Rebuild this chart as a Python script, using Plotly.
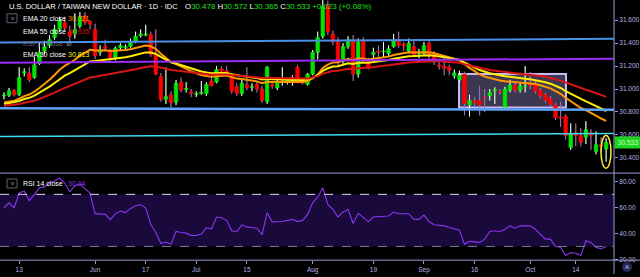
import pandas as pd
import plotly.graph_objects as go

# ---------------- data ----------------
dates = [d.strftime("%Y-%m-%d") for d in pd.bdate_range("2019-05-08", "2019-10-22")]

opens = [30.940, 30.945, 30.990, 30.950, 31.140, 31.140, 31.100, 31.220, 31.330, 31.380,
         31.450, 31.520, 31.580, 31.500, 31.480, 31.550, 31.640, 31.590, 31.520, 31.320,
         31.370, 31.330, 31.270, 31.360, 31.360, 31.370, 31.410, 31.465, 31.470, 31.475,
         31.300, 31.110, 30.910, 30.950, 30.885, 31.060, 30.995, 30.975, 30.955, 30.960,
         30.960, 31.070, 31.060, 31.175, 31.160, 31.120, 31.020, 30.960, 31.040, 31.015,
         31.040, 31.000, 30.890, 31.040, 31.010, 31.060, 31.060, 31.070, 31.190, 31.065,
         31.040, 31.130, 31.320, 31.460, 31.730, 31.480, 31.410, 31.240, 31.370, 31.430,
         31.130, 31.420, 31.240, 31.300, 31.330, 31.325, 31.310, 31.370, 31.430, 31.390,
         31.330, 31.370, 31.310, 31.310, 31.400, 31.300, 31.210, 31.200, 31.190, 31.115,
         31.080, 31.130, 30.860, 30.900, 30.900, 30.930, 30.940, 30.985, 30.980, 30.840,
         30.990, 31.035, 30.990, 31.020, 31.045, 31.050, 30.990, 30.950, 30.920, 30.860,
         30.755, 30.760, 30.490, 30.620, 30.595, 30.580, 30.620, 30.455, 30.515, 30.478]
highs = [30.970, 31.010, 31.000, 31.190, 31.180, 31.190, 31.280, 31.410, 31.420, 31.470,
         31.560, 31.630, 31.630, 31.550, 31.660, 31.670, 31.670, 31.600, 31.570, 31.380,
         31.430, 31.350, 31.370, 31.400, 31.390, 31.440, 31.500, 31.520, 31.560, 31.500,
         31.520, 31.140, 31.190, 30.980, 31.080, 31.100, 31.060, 31.000, 30.980, 31.070,
         31.060, 31.120, 31.200, 31.200, 31.200, 31.140, 31.050, 31.080, 31.190, 31.050,
         31.070, 31.030, 31.200, 31.060, 31.080, 31.190, 31.100, 31.120, 31.210, 31.090,
         31.140, 31.340, 31.500, 31.780, 31.770, 31.510, 31.450, 31.400, 31.460, 31.470,
         31.440, 31.450, 31.270, 31.360, 31.380, 31.410, 31.380, 31.480, 31.500, 31.410,
         31.440, 31.430, 31.350, 31.410, 31.430, 31.330, 31.260, 31.270, 31.210, 31.170,
         31.160, 31.150, 30.950, 30.930, 31.030, 31.000, 31.000, 31.015, 31.000, 31.020,
         31.080, 31.070, 31.060, 31.200, 31.150, 31.070, 31.010, 30.970, 30.940, 30.880,
         30.890, 30.780, 30.700, 30.700, 30.660, 30.720, 30.650, 30.630, 30.580, 30.572]
lows = [30.910, 30.930, 30.935, 30.940, 31.110, 31.060, 31.090, 31.210, 31.300, 31.360,
        31.430, 31.500, 31.500, 31.420, 31.440, 31.530, 31.560, 31.520, 31.260, 31.290,
        31.340, 31.240, 31.250, 31.340, 31.340, 31.360, 31.400, 31.450, 31.460, 31.280,
        31.120, 30.890, 30.870, 30.840, 30.860, 30.970, 30.970, 30.930, 30.930, 30.950,
        30.940, 31.020, 31.050, 31.140, 31.110, 30.960, 30.940, 30.940, 30.990, 30.980,
        30.970, 30.880, 30.870, 31.000, 30.990, 31.030, 31.040, 31.030, 31.050, 31.040,
        31.030, 31.120, 31.260, 31.440, 31.470, 31.380, 31.200, 31.220, 31.350, 31.070,
        31.100, 31.240, 31.170, 31.270, 31.280, 31.280, 31.290, 31.360, 31.360, 31.330,
        31.310, 31.280, 31.270, 31.290, 31.250, 31.210, 31.170, 31.120, 31.120, 31.090,
        31.060, 30.770, 30.760, 30.850, 30.770, 30.800, 30.900, 30.870, 30.950, 30.820,
        30.970, 30.970, 30.970, 30.970, 31.000, 30.960, 30.920, 30.880, 30.850, 30.730,
        30.670, 30.560, 30.470, 30.500, 30.500, 30.520, 30.470, 30.430, 30.450, 30.365]
closes = [30.945, 30.985, 30.950, 31.100, 31.150, 31.080, 31.210, 31.320, 31.370, 31.430,
          31.520, 31.600, 31.530, 31.460, 31.520, 31.630, 31.580, 31.565, 31.290, 31.330,
          31.355, 31.260, 31.355, 31.380, 31.368, 31.410, 31.460, 31.480, 31.478, 31.300,
          31.130, 30.910, 30.935, 30.880, 31.050, 30.990, 31.005, 30.960, 30.960, 30.970,
          31.040, 31.030, 31.170, 31.155, 31.130, 30.980, 30.960, 31.050, 31.010, 31.020,
          31.000, 30.900, 31.190, 31.025, 31.060, 31.065, 31.080, 31.075, 31.060, 31.050,
          31.130, 31.320, 31.450, 31.720, 31.500, 31.410, 31.240, 31.370, 31.430, 31.130,
          31.410, 31.260, 31.190, 31.320, 31.320, 31.330, 31.350, 31.430, 31.380, 31.375,
          31.400, 31.300, 31.320, 31.380, 31.290, 31.235, 31.200, 31.180, 31.160, 31.140,
          31.120, 30.870, 30.900, 30.880, 30.860, 30.925, 30.970, 30.995, 30.975, 31.000,
          31.035, 30.990, 31.025, 31.025, 31.030, 30.980, 30.940, 30.900, 30.865, 30.750,
          30.745, 30.595, 30.610, 30.595, 30.535, 30.645, 30.595, 30.515, 30.500, 30.533]

rsi = [59.7, 63.5, 59.7, 71.0, 72.6, 65.0, 70.0, 75.0, 75.7, 78.7,
       80.2, 82.5, 78.7, 71.9, 76.4, 78.0, 74.4, 71.0, 55.2, 55.0,
       54.6, 50.6, 55.0, 57.2, 56.0, 59.2, 61.2, 62.0, 59.7, 47.0,
       40.7, 32.4, 33.2, 31.8, 41.5, 40.7, 40.2, 38.4, 38.4, 39.5,
       44.3, 43.5, 52.6, 52.0, 50.0, 42.0, 41.3, 46.6, 45.0, 44.5,
       44.0, 39.0, 55.9, 48.9, 49.0, 49.1, 50.0, 50.8, 49.1, 50.0,
       54.6, 63.5, 67.8, 74.9, 62.2, 58.4, 52.6, 56.4, 58.4, 47.6,
       55.4, 52.0, 49.1, 52.6, 52.9, 53.2, 53.4, 56.4, 55.1, 55.1,
       55.1, 50.8, 50.8, 54.1, 49.1, 46.6, 46.2, 45.8, 44.5, 43.2,
       42.5, 31.8, 33.9, 33.5, 33.1, 35.6, 41.5, 42.0, 41.3, 43.2,
       45.8, 44.0, 45.8, 45.8, 45.8, 43.2, 39.5, 35.6, 35.6, 29.9,
       29.4, 23.0, 25.3, 24.8, 23.0, 34.4, 33.1, 29.4, 28.1, 30.04]

tick_dates = ["2019-05-13", "2019-06-03", "2019-06-17", "2019-07-01", "2019-07-15", "2019-08-01",
              "2019-08-19", "2019-09-02", "2019-09-16", "2019-10-01", "2019-10-14"]
tick_labels = ["13", "Jun", "17", "Jul", "15", "Aug", "19", "Sep", "16", "Oct", "14"]

price_ticks = [31.6, 31.4, 31.2, 31.0, 30.8, 30.6, 30.4]
rsi_ticks = [80, 60, 40, 20]

# EMA seeds (value of each average just before the first visible bar)
ema_specs = [(20, 30.875, "#ff9800"), (30, 30.865, "#ffee00"), (55, 30.85, "#d81414")]


def ema(values, n, seed):
    a = 2.0 / (n + 1)
    out, e = [], seed
    for v in values:
        e = e + a * (v - e)
        out.append(e)
    return out


# ---------------- geometry helpers ----------------
W, H = 640, 277
AX_X = 614            # right price axis
SEP_Y = 175           # pane separator
RSI_TOP, RSI_BOT = 176, 263
P_REF, Y_REF, PPU = 31.0, 90.0, 116.0   # price 31.0 at y=90px, 116 px per unit
BAR0, DX = 4.0, 5.06


def px(x):
    return x / W


def py(y):
    return 1 - y / H


def y2p(y):
    return P_REF - (y - Y_REF) / PPU


def x2i(x):
    return (x - BAR0) / DX


price_range = [y2p(SEP_Y), y2p(0)]
rsi_ppu = (262.3 - 183.3) / 60.0
rsi_range = [20 - (RSI_BOT - 262.3) / rsi_ppu, 80 + (183.3 - RSI_TOP) / rsi_ppu]
x_range = [x2i(0), x2i(AX_X)]

fig = go.Figure()

# candle bodies
fig.add_trace(go.Candlestick(
    x=dates, open=opens, high=highs, low=lows, close=closes,
    increasing=dict(line=dict(color="#00e600", width=0.6), fillcolor="#00e600"),
    decreasing=dict(line=dict(color="#ff0000", width=0.6), fillcolor="#ff0000"),
    whiskerwidth=0, xaxis="x", yaxis="y", hoverinfo="skip", showlegend=False))

# wicks (outside of bodies), drawn over the candle's own wick
for up, col in [(True, "#ffffff"), (False, "#8585c8")]:
    xs, ys = [], []
    for i in range(len(dates)):
        if (closes[i] >= opens[i]) != up:
            continue
        top, bot = max(opens[i], closes[i]), min(opens[i], closes[i])
        xs += [dates[i], dates[i], None, dates[i], dates[i], None]
        ys += [highs[i], top, None, bot, lows[i], None]
    fig.add_trace(go.Scatter(x=xs, y=ys, mode="lines", line=dict(color=col, width=1),
                             xaxis="x", yaxis="y", hoverinfo="skip", showlegend=False))

# EMAs
for n, seed, col in ema_specs:
    fig.add_trace(go.Scatter(x=dates, y=ema(closes, n, seed), mode="lines",
                             line=dict(color=col, width=2), xaxis="x", yaxis="y",
                             hoverinfo="skip", showlegend=False))

# RSI
fig.add_trace(go.Scatter(x=dates, y=rsi, mode="lines", line=dict(color="#8a35f0", width=1.1),
                         xaxis="x2", yaxis="y2", hoverinfo="skip", showlegend=False))

shapes = []
# RSI band
shapes.append(dict(type="rect", xref="x2", yref="y2", x0=x_range[0], x1=x_range[1], y0=30, y1=70,
                   fillcolor="#1a0a3c", line=dict(width=0), layer="below"))
shapes.append(dict(type="line", xref="x2", yref="y2", x0=x_range[0], x1=x_range[1], y0=70, y1=70,
                   line=dict(color="#dcd4ff", width=1, dash="dash")))
shapes.append(dict(type="line", xref="x2", yref="y2", x0=x_range[0], x1=x_range[1], y0=30, y1=30,
                   line=dict(color="#7c7a94", width=1, dash="dash")))
# consolidation box
shapes.append(dict(type="rect", xref="x", yref="y", x0=x2i(459), x1=x2i(566), y0=y2p(108.7), y1=y2p(74.7),
                   fillcolor="rgba(135,125,180,0.45)", line=dict(color="#c9b8f5", width=2), layer="below"))
# trend / level lines
shapes.append(dict(type="line", xref="x", yref="y", x0=x_range[0], x1=x_range[1], y0=y2p(43), y1=y2p(39.3),
                   line=dict(color="#4a90e8", width=2)))
shapes.append(dict(type="line", xref="x", yref="y", x0=x_range[0], x1=x_range[1], y0=y2p(63.5), y1=y2p(59.3),
                   line=dict(color="#9b2cf5", width=2)))
shapes.append(dict(type="line", xref="x", yref="y", x0=x_range[0], x1=x_range[1], y0=y2p(109.5), y1=y2p(111),
                   line=dict(color="#5ea4ff", width=2.5)))
shapes.append(dict(type="line", xref="x", yref="y", x0=x_range[0], x1=x_range[1], y0=y2p(138), y1=y2p(135),
                   line=dict(color="#40dcf0", width=1.5)))
# ellipse around last bar
shapes.append(dict(type="circle", xref="x", yref="y", x0=x2i(601), x1=x2i(611), y0=y2p(170), y1=y2p(137),
                   line=dict(color="#ffe93a", width=1.5)))
# frame lines
frame = "#9a9ad8"
shapes.append(dict(type="line", xref="paper", yref="paper", x0=px(AX_X), x1=px(AX_X), y0=0, y1=1,
                   line=dict(color=frame, width=1)))
shapes.append(dict(type="line", xref="paper", yref="paper", x0=0, x1=1, y0=py(SEP_Y), y1=py(SEP_Y),
                   line=dict(color=frame, width=1)))
shapes.append(dict(type="line", xref="paper", yref="paper", x0=0, x1=1, y0=py(RSI_BOT), y1=py(RSI_BOT),
                   line=dict(color=frame, width=1)))
# legend chevron boxes
for (y0, y1) in [(14, 23), (181, 190)]:
    shapes.append(dict(type="rect", xref="paper", yref="paper", x0=px(7), x1=px(17), y0=py(y1), y1=py(y0),
                       line=dict(color="#5d6070", width=1), fillcolor="rgba(0,0,0,0)"))
# "A" auto-scale button
shapes.append(dict(type="circle", xref="paper", yref="paper", x0=px(622), x1=px(632), y0=py(275), y1=py(265),
                   fillcolor="#262a55", line=dict(width=0)))

FONT = "Liberation Sans, Arial, sans-serif"
ann = []


def text(x, y, s, color="#ffffff", size=7, anchor="left"):
    ann.append(dict(xref="paper", yref="paper", x=px(x), y=py(y), text=s, showarrow=False,
                    xanchor=anchor, yanchor="middle", font=dict(color=color, size=size, family=FONT)))


G = "#1ee01e"
text(7, 7, "U.S. DOLLAR / TAIWAN NEW DOLLAR · 1D · IDC", "#ffffff", 7.5)
ohlc = ("O<span style='color:%s'>30.478</span> H<span style='color:%s'>30.572</span> "
        "L<span style='color:%s'>30.365</span> C<span style='color:%s'>30.533</span> "
        "<span style='color:%s'>+0.023 (+0.08%%)</span>") % (G, G, G, G, G)
text(183, 7, ohlc, "#ffffff", 7.9)
text(12, 18.5, "v", "#b0b0c0", 6, "center")
text(12, 185.5, "v", "#b0b0c0", 6, "center")
rows = [(18.5, "EMA 20 close", "30.721", "#ff9800", "#ffffff"),
        (31.5, "EMA 55 close", "30.935", "#d81414", "#ffffff"),
        (43.5, "RSI 14 close", "", "#777777", "#6a6a7a"),
        (55.5, "EMA 30 close", "30.813", "#ffee00", "#ffffff")]
for y, lab, val, vc, lc in rows:
    text(21, y, lab, lc, 7)
    if val:
        text(66, y, val, vc, 7)
text(69, 43.5, "⊘", "#9a9aa8", 7, "center")
text(21, 186, "RSI 14 close", "#ffffff", 7)
text(66, 186, "30.04", "#8a35f0", 7)
text(627, 270, "A", "#c8c8ff", 6, "center")

# live price label
ann.append(dict(xref="paper", yref="y", x=px(AX_X), y=30.533, text="30.533", showarrow=False,
                xanchor="left", yanchor="middle", bgcolor="#1ed41e", width=24, height=9,
                font=dict(color="#c8ffc8", size=6.5, family=FONT)))

axis_font = dict(color="#b4b4e6", size=6.5, family=FONT)
fig.update_layout(
    width=W, height=H, margin=dict(l=0, r=0, t=0, b=0),
    paper_bgcolor="#000000", plot_bgcolor="#000000",
    showlegend=False, hovermode=False, boxgap=0.3, boxgroupgap=0,
    shapes=shapes, annotations=ann,
    xaxis=dict(type="category", domain=[0, px(AX_X)], anchor="y", range=x_range,
               showticklabels=False, showgrid=False, zeroline=False, rangeslider=dict(visible=False),
               ticks=""),
    xaxis2=dict(type="category", domain=[0, px(AX_X)], anchor="y2", range=x_range, matches="x",
                tickmode="array", tickvals=tick_dates, ticktext=tick_labels,
                showgrid=False, zeroline=False, ticks="outside", ticklen=3, tickcolor=frame,
                tickfont=axis_font),
    yaxis=dict(domain=[py(SEP_Y), 1], anchor="x", side="right", range=price_range,
               tickmode="array", tickvals=price_ticks, ticktext=["%.3f" % v for v in price_ticks],
               showgrid=False, zeroline=False, ticks="outside", ticklen=3, tickcolor=frame,
               tickfont=axis_font),
    yaxis2=dict(domain=[py(RSI_BOT), py(RSI_TOP)], anchor="x2", side="right", range=rsi_range,
                tickmode="array", tickvals=rsi_ticks, ticktext=["%.2f" % v for v in rsi_ticks],
                showgrid=False, zeroline=False, ticks="outside", ticklen=3, tickcolor=frame,
                tickfont=axis_font),
)

fig.write_html("out.html")
